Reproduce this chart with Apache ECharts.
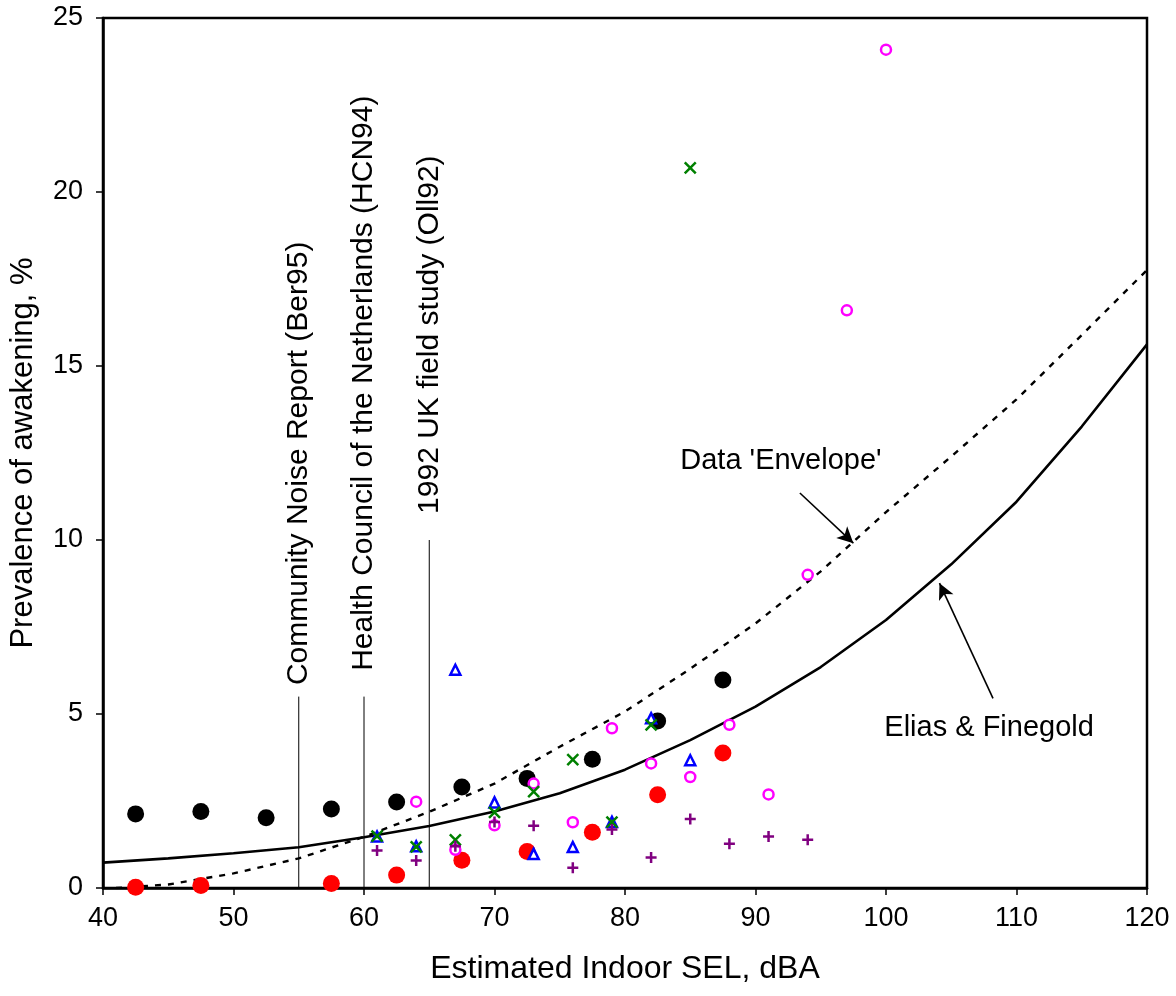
<!DOCTYPE html>
<html>
<head>
<meta charset="utf-8">
<script src="https://cdn.jsdelivr.net/npm/echarts@6/dist/echarts.min.js"></script>
<style>
html,body{margin:0;padding:0;background:#fff;}
#chart{width:1176px;height:996px;}
</style>
</head>
<body>
<div id="chart"></div>
<script>
// ---- data ----
const blackX = [42.5, 47.5, 52.5, 57.5, 62.5, 67.5, 72.5, 77.5, 82.5, 87.5];
const blackY = [2.13, 2.2, 2.02, 2.27, 2.47, 2.9, 3.15, 3.7, 4.8, 5.98];
const redX = [42.5, 47.5, 57.5, 62.5, 67.5, 72.5, 77.5, 82.5, 87.5];
const redY = [0.02, 0.07, 0.13, 0.37, 0.8, 1.05, 1.6, 2.68, 3.88];
const magentaX = [64, 67, 70, 73, 76, 79, 82, 85, 88, 91, 94, 97, 100];
const magentaY = [2.48, 1.1, 1.8, 3.0, 1.89, 4.59, 3.58, 3.19, 4.69, 2.69, 9.0, 16.6, 24.09];
const blueX = [61, 64, 67, 70, 73, 76, 79, 82, 85];
const blueY = [1.48, 1.2, 6.27, 2.46, 0.98, 1.18, 1.9, 4.88, 3.67];
const greenX = [61, 64, 67, 70, 73, 76, 79, 82, 85];
const greenY = [1.49, 1.18, 1.38, 2.17, 2.77, 3.69, 1.89, 4.69, 20.69];
const purpleX = [61, 64, 67, 70, 73, 76, 79, 82, 85, 88, 91, 94];
const purpleY = [1.08, 0.79, 1.2, 1.9, 1.79, 0.58, 1.68, 0.88, 1.98, 1.27, 1.48, 1.39];
const eliasX = [40, 45, 50, 55, 60, 65, 70, 75, 80, 85, 90, 95, 100, 105, 110, 115, 120];
const eliasY = [0.73, 0.85, 1.0, 1.17, 1.46, 1.78, 2.2, 2.72, 3.4, 4.25, 5.21, 6.35, 7.7, 9.3, 11.1, 13.26, 15.62];
const envX = [41, 45, 50, 55, 60, 65, 70, 75, 80, 85, 90, 95, 100, 105, 110, 115, 120];
const envY = [0.0, 0.1, 0.42, 0.85, 1.47, 2.19, 3.0, 4.06, 5.07, 6.3, 7.6, 9.1, 10.8, 12.4, 14.04, 15.89, 17.76];
const guideX = [55, 60, 65];
const guideTop = [5.5, 5.5, 10];
const guideLabels = ['Community Noise Report (Ber95)', 'Health Council of the Netherlands (HCN94)', '1992 UK field study (Oll92)'];
const xTicks = [40, 120, 10];
const yTicks = [0, 25, 5];

// ---- layout (positions in data units) ----
const guideTextAt = [[55, 5.83], [60, 6.24], [65, 10.75]];
const envArrow = [[93.4, 11.35], [97.5, 9.91]];
const eliasArrow = [[108.2, 5.45], [104.1, 8.76]];
const envTextAt = [91.95, 12.27];
const eliasTextAt = [107.9, 4.6];

const FONT = '"Liberation Sans", Arial, sans-serif';
const zip = (xs, ys) => xs.map((x, i) => [x, ys[i]]);

const chart = echarts.init(document.getElementById('chart'), null, {renderer: 'canvas'});

function scatter(name, xs, ys, symbol, size, fill, stroke, bw, z) {
  return {
    name, type: 'scatter', data: zip(xs, ys), symbol, symbolSize: size, z,
    itemStyle: {color: fill, borderColor: stroke, borderWidth: bw, opacity: 1},
    emphasis: {disabled: true}, silent: true
  };
}

const option = {
  animation: false,
  backgroundColor: '#fff',
  grid: {left: 103, right: 29, top: 18, bottom: 108, show: true, borderColor: '#000', borderWidth: 2.5, containLabel: false},
  xAxis: {
    type: 'value', min: xTicks[0], max: xTicks[1], interval: xTicks[2],
    axisLine: {show: true, onZero: false, lineStyle: {color: '#000', width: 2.5}},
    axisTick: {show: true, inside: false, length: 7, lineStyle: {color: '#000', width: 1.5}},
    splitLine: {show: false},
    axisLabel: {color: '#000', fontSize: 27, fontFamily: FONT, margin: 17},
    name: 'Estimated Indoor SEL, dBA', nameLocation: 'middle', nameGap: 65,
    nameTextStyle: {color: '#000', fontSize: 32, fontFamily: FONT}
  },
  yAxis: {
    type: 'value', min: yTicks[0], max: yTicks[1], interval: yTicks[2],
    axisLine: {show: true, onZero: false, lineStyle: {color: '#000', width: 2.5}},
    axisTick: {show: true, inside: false, length: 7, lineStyle: {color: '#000', width: 1.5}},
    splitLine: {show: false},
    axisLabel: {color: '#000', fontSize: 27, fontFamily: FONT, margin: 20},
    name: 'Prevalence of awakening, %', nameLocation: 'middle', nameGap: 64,
    nameTextStyle: {color: '#000', fontSize: 31, fontFamily: FONT}
  },
  series: [
    ...guideX.map((gx, i) => ({
      type: 'line', data: [[gx, 0], [gx, guideTop[i]]], symbol: 'none', z: 1, silent: true,
      lineStyle: {color: '#000', width: 1}
    })),
    {type: 'line', name: 'Elias & Finegold', data: zip(eliasX, eliasY), symbol: 'none', z: 2, silent: true,
     lineStyle: {color: '#000', width: 2.6}},
    {type: 'line', name: "Data 'Envelope'", data: zip(envX, envY), symbol: 'none', z: 2, silent: true,
     lineStyle: {color: '#000', width: 2.4, type: [6, 7]},
     markLine: {
       silent: true, symbol: ['none', 'arrow'], symbolSize: [12, 16], animation: false,
       label: {show: false}, lineStyle: {color: '#000', width: 1.6, type: 'solid'},
       data: [
         [{coord: envArrow[0]}, {coord: envArrow[1]}],
         [{coord: eliasArrow[0]}, {coord: eliasArrow[1]}]
       ]
     }},
    scatter('black', blackX, blackY, 'circle', 17, '#000', '#000', 0, 3),
    scatter('red', redX, redY, 'circle', 17, '#ff0000', '#ff0000', 0, 3),
    scatter('magenta', magentaX, magentaY, 'circle', 10, '#fff', '#ff00ff', 2.5, 4),
    scatter('blue', blueX, blueY, 'triangle', 10, '#fff', '#0000ff', 2.5, 5),
    scatter('green', greenX, greenY, 'path://M0,0 L10,10 M10,0 L0,10', 11, 'none', '#008000', 2.5, 6),
    scatter('purple', purpleX, purpleY, 'path://M5,0 L5,10 M0,5 L10,5', 11, 'none', '#800080', 2.5, 7)
  ]
};
chart.setOption(option);

const px = (p) => chart.convertToPixel({gridIndex: 0}, p);
const graphics = [];
guideLabels.forEach((t, i) => {
  const p = px(guideTextAt[i]);
  graphics.push({type: 'text', x: p[0], y: p[1], rotation: Math.PI / 2, silent: true,
    style: {text: t, fill: '#000', font: '30px ' + FONT, textAlign: 'left', textVerticalAlign: 'middle'}});
});
const pe = px(envTextAt);
graphics.push({type: 'text', x: pe[0], y: pe[1], silent: true,
  style: {text: "Data 'Envelope'", fill: '#000', font: '29px ' + FONT, textAlign: 'center', textVerticalAlign: 'middle'}});
const pf = px(eliasTextAt);
graphics.push({type: 'text', x: pf[0], y: pf[1], silent: true,
  style: {text: 'Elias & Finegold', fill: '#000', font: '29px ' + FONT, textAlign: 'center', textVerticalAlign: 'middle'}});
chart.setOption({graphic: graphics});
</script>
</body>
</html>
